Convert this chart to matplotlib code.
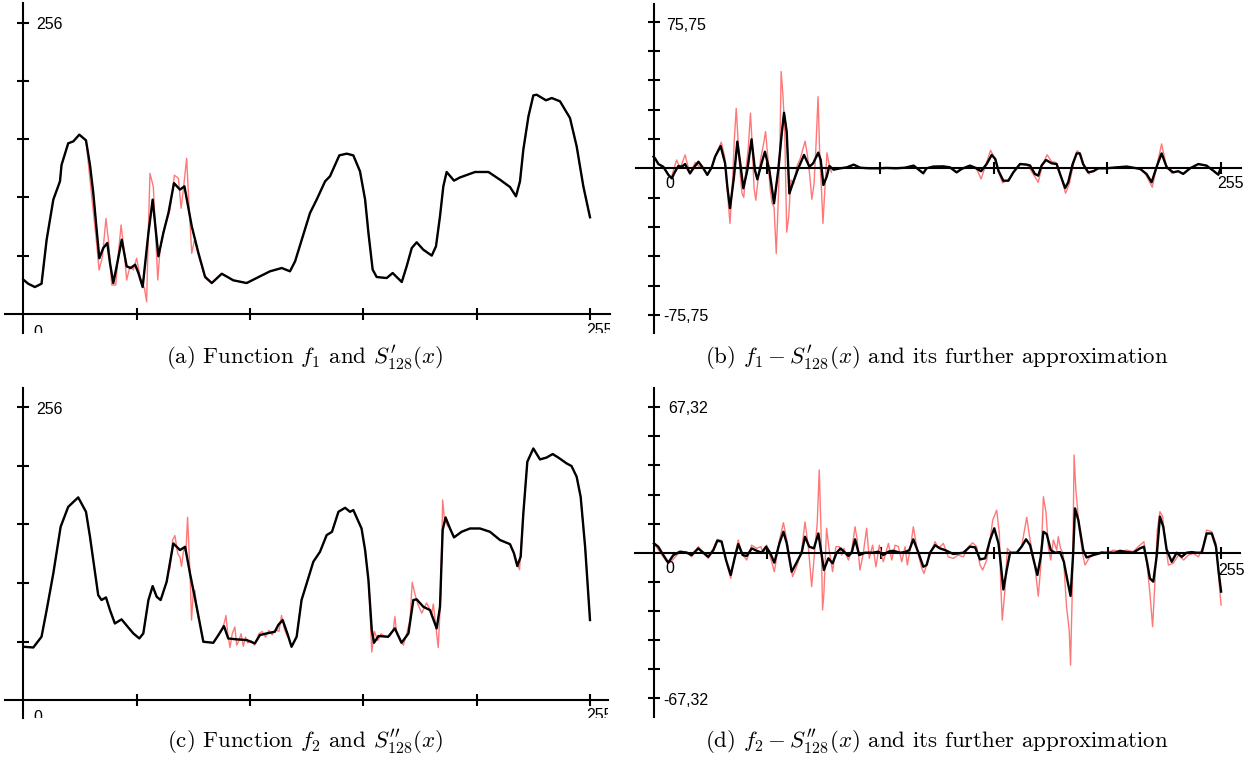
import matplotlib
matplotlib.use("Agg")
import matplotlib.pyplot as plt

plt.rcParams['mathtext.fontset'] = 'cm'

# ---- data ----
# (a) f1 and S'128 (black), the red copy is noisy around x=30..80
f1_x = [0, 2.2, 5.2, 8.2, 10.5, 13.5, 16.5, 17.2, 20.2, 22.5, 25.2, 28.2, 30, 31.5, 33, 34.2, 36, 37.8, 39, 40.5,
        42, 44.3, 46.5, 48.3, 50.3, 51.8, 53.7, 56.3, 58.2, 60.8, 63, 65.3, 67.8, 70.5, 72.5, 75.8, 78.8, 81.8,
        84.8, 89.3, 94.5, 100.5, 106.5, 111, 116.3, 120, 122.3, 125.3, 129, 132, 135.8, 138, 142.2, 145.5, 148.5,
        151.5, 153.8, 155.3, 157.2, 159, 163.5, 166.2, 170.3, 172.5, 174.8, 177, 180, 183.8, 185.7, 187.5, 189,
        190.5, 193.8, 196.5, 203.3, 209.3, 214.5, 219, 221.7, 223.5, 225, 227.3, 229.5, 231, 235.2, 237.8, 241.5,
        246, 249, 252, 255]
f1_y = [30.2, 26.6, 23.7, 26.6, 65.3, 100.5, 116.6, 131, 150, 151.7, 157.6, 152.6, 131, 106, 74, 49, 58, 62.4, 44.8,
        27.2, 41.9, 65.3, 41.9, 40.4, 43.3, 36, 23.7, 71.2, 100.5, 50.7, 71.2, 88.7, 115, 109.3, 112.2, 77, 53.6,
        32.5, 27.2, 35.4, 29.6, 27.2, 33.1, 37.5, 40.4, 37.5, 46.3, 65.3, 88.7, 100.5, 116.6, 121, 139.4, 140.9,
        139.4, 125.4, 100.5, 71.2, 39, 32.5, 31.6, 36, 28.1, 41.9, 58, 63, 56.5, 51.3, 59.5, 85.8, 112.2, 124.8,
        117.2, 120, 124.8, 124.8, 118, 111.6, 103.4, 116.6, 144.4, 173.7, 192.1, 192.7, 187.8, 189.8, 186.9, 172.2,
        147.3, 112.2, 85]
f1_red_x = [28.2, 30.8, 33, 34.1, 35.6, 37.2, 38.3, 39.8, 41.6, 42.8, 44, 45.5, 46.5, 48, 49.5, 51, 52.5, 54.5, 55.5,
            56.3, 57, 58.5, 59.3, 60.5, 61.5, 63.8, 66, 68, 69.8, 71, 72, 73.5, 74.6, 75.8, 77, 78.8, 81.5, 84.8]
f1_red_y = [152.6, 103, 62, 38.7, 50.4, 84, 65, 25.5, 25.5, 53.3, 78.2, 53.3, 29.9, 41.6, 38.7, 49, 32.8, 22.6, 10.8,
            76.7, 123.6, 111.9, 79.7, 29.9, 56.2, 78.2, 91.4, 122, 119.2, 92.9, 109, 136.8, 94.3, 53.3, 65, 51.8, 34.3,
            27.2]

# (b) f1 - S'128 (red) and its further approximation (black)
r1_x = [0, 0.7, 2.2, 4.4, 6.7, 8.2, 9.7, 11.2, 12.7, 14.2, 16.4, 18.7, 20.2, 22.4, 24.2, 26.2, 27.7, 30.2, 32.2,
        33.2, 34.4, 36.2, 37.7, 39.2, 40.4, 42.2, 44.1, 45.6, 46.7, 48.6, 50.1, 52.1, 54.2, 56.1, 57.6, 58.7, 59.9,
        61.1, 62.9, 65.1, 67.7, 70.1, 71.8, 74.1, 75.2, 76.4, 77.9, 79.1, 81, 84, 87, 90, 93, 97, 101, 105, 109,
        113, 117, 119.8, 121.3, 122.8, 125.8, 130.3, 133.3, 136.3, 138.6, 142.3, 144.3, 147.3, 149.8, 152.1, 153.7,
        155.1, 157.3, 159.6, 161.8, 164.8, 167.8, 169.3, 171.5, 173, 174.5, 176.5, 179, 181.3, 182.8, 185.1, 186.5,
        188.5, 190.3, 191.7, 193.2, 195.5, 197.8, 200, 203.7, 208.3, 212.8, 218.8, 221.7, 224, 226.3, 228.5, 230.8,
        233.7, 236, 238.2, 241.3, 245, 248.7, 251.7, 254, 255]
r1_y = [6, 5.1, 2.2, 0.8, -3.4, -5.2, -1.7, 1.2, 0.8, 2.2, -2.6, 1.2, 3.4, 0, -3.4, 0.5, 6, 11.5, 2.6, -9.5, -20.6,
        -4.3, 13.8, 0.8, -10.3, -0.9, 15, -0.9, -5.7, 2.6, 8.6, -0.9, -18.1, -0.9, 17.2, 28.7, 18.9, -13, -6.9, 0,
        6.9, 0.8, 2.6, 8.1, 4.3, -8.6, -4.3, 1.2, -0.7, 0, 0.5, 1.9, 0.3, 0, 0, 0.2, 0, 0.3, 1.4, -1.2, -2.6, 0,
        0.9, 1, 0.5, -2.1, -0.3, 1.4, 0.5, -1.5, 2.2, 6.9, 4.8, -1.2, -6.4, -6.4, -2.1, 2.2, 1.9, 1.5, -2.9, -3.8,
        1.4, 4.3, 2.6, 2.2, -2.9, -10.2, -7.2, 2.2, 7.7, 7.7, 2.2, -2.1, -1.5, 0, 0, 0.5, 0.9, -0.3, -2.9, -7.2, 0.9,
        7.7, 0.5, -2.1, -1.5, -2.9, 0, 2.2, 1.4, -1.2, -3.3, 0]
r1_red_x = [8.2, 10.4, 12, 14.2, 16.4, 18.7, 20.5, 22.4, 24.2, 26.2, 28, 30.5, 32, 33.2, 34.4, 35.5, 36.3, 37.2, 38,
            39, 39.8, 40.6, 41.6, 42.6, 43.6, 44.4, 45.2, 46, 47, 48.2, 49.4, 50.4, 51.4, 52.4, 53.3, 54.2, 55.2, 56,
            56.8, 57.4, 58.2, 59, 59.9, 60.8, 61.8, 63, 64.5, 66, 67.2, 68.2, 69.3, 70.3, 71.2, 72.2, 73, 74, 74.8,
            75.5, 76.2, 77, 78, 79, 80]
r1_red_y = [-4, 4.3, 0, 6.9, -3, 3, 1, 0, -3, 0.5, 7, 13.5, 6, -12, -28.5, -8, 14, 31, 15, -3, -13, -15, 0, 10,
            28.5, 12, -10, -16.5, -6, 5, 12, 19, 6, -10, -18, -20, -44, -20, 8, 50, 38, 20, -33, -25, -6, -8, 1, 5,
            10, 14, 6, -4, -16, -8, 10, 37, 5, -10, -28.5, -12, 8, 2, -2]
r1_red2_x = [145, 147.3, 149.5, 151.6, 153.5, 155, 157, 159.5, 162, 165, 168, 171.3, 173, 175, 177, 179, 181, 183,
             185.3, 187, 189, 190.5, 192, 194, 196]
r1_red2_y = [0.5, -5.5, 2, 9.3, 5, -1.5, -7.5, -6, -2, 2.5, 2, -4, -7.2, 2, 7, 3.5, 3, -3, -12.9, -8, 3, 9.1, 7.5,
             0, -3]
r1_red3_x = [219, 221.5, 224.3, 226.3, 228.5, 230.5, 233]
r1_red3_y = [0, -3.5, -9.8, 1, 12.6, 2, -2.5]

# (c) f2 and S''128
f2_x = [0.3, 4.5, 8.2, 10.5, 13.5, 16.8, 20.2, 24.7, 28.2, 30, 31.9, 33.7, 35.2, 37.2, 39, 41.2, 44.2, 47.2, 49.5,
        52.2, 54, 56.3, 58.2, 60, 61.8, 64.5, 67.5, 70.5, 72.8, 75, 78, 81, 85.5, 87.8, 90.3, 92.2, 96, 100.5,
        104.2, 106.5, 109.5, 113.2, 114.7, 116.7, 118.8, 120.7, 123, 125.2, 127.5, 130.5, 133.5, 136.5, 138.9,
        141.8, 144.8, 147, 148.5, 152.2, 153.8, 155.3, 156.8, 157.8, 159.8, 164.2, 167.2, 170.2, 173.3, 175.5, 177,
        180, 183, 186, 187.5, 188.7, 190, 192, 193.8, 197.2, 201, 205.5, 210, 214.5, 219, 220.8, 222.3, 223.8, 225,
        226.8, 229.5, 232.5, 235.5, 238.2, 240.7, 244.5, 246.7, 249, 250.8, 252.8, 253.8, 255]
f2_y = [46.6, 46, 55.4, 78.7, 110.8, 151.6, 169, 177.3, 164.7, 142.9, 116.6, 91.8, 87.5, 89.8, 78.7, 67, 70.6, 63.6,
        58.3, 53.9, 58.3, 87.5, 99.7, 90.4, 87.5, 103.5, 137, 131.2, 134.1, 110.8, 81.6, 51, 50.1, 56.9, 64.7, 53.9,
        53.1, 52.5, 49.6, 56.9, 58.3, 59.8, 65.6, 70, 58.3, 46.6, 55.4, 87.5, 102, 121, 129.7, 144.3, 147.2, 164.7,
        168.2, 164.7, 166.2, 150.1, 131.2, 105, 61.2, 50.1, 56, 55.4, 62.7, 50.1, 58.3, 87.5, 88.1, 81.6, 78.7,
        62.7, 81.6, 148.7, 159.8, 150.1, 142.3, 147.2, 150.1, 150.1, 147.2, 140, 136.4, 128.3, 117.2, 125.4, 163.3,
        208.5, 220.1, 210.5, 212.2, 215.2, 212.2, 207, 204.7, 195.3, 177.8, 134.1, 105, 70]
f2_red_x = [66, 67.2, 68.2, 69.5, 70.5, 71.2, 72.2, 73.2, 73.9, 74.6, 75.2, 75.7, 76.5, 77.2, 78, 79]
f2_red_y = [115, 140, 144, 128, 125, 117, 132, 130, 160, 130, 100, 70, 95, 96, 80, 70]
f2_red2_x = [89, 90.5, 91.2, 92, 93, 94, 95.2, 96, 97, 98, 99, 100, 101, 102.5, 104, 106, 107.5, 109, 110.5, 112,
             113.5, 115, 116.2, 117.5, 118.8]
f2_red2_y = [60, 68, 74, 58, 46, 58, 64, 48, 52, 58, 47, 55, 50, 52, 48, 58, 60, 55, 61, 57, 62, 60, 74, 62, 56]
f2_red3_x = [155.5, 156.8, 158, 159.5, 161, 163, 165, 166.5, 167.2, 168, 169.5, 171, 172.5, 174, 175, 176.2, 177.5,
             179.3, 181.5, 183.8, 184.5, 186.7, 187.8, 188.7, 189.5, 191]
f2_red3_y = [100, 42, 60, 52, 58, 55, 56, 62, 73, 58, 52, 48, 58, 70, 103, 93, 84, 76, 85, 76, 84, 46, 90, 175,
             158, 152]
f2_red4_x = [221, 222.3, 223.3, 224.5]
f2_red4_y = [126, 120, 114, 150]

# (d) f2 - S''128 (red) and its further approximation (black)
r2_x = [0, 1.9, 4.2, 6.4, 8.7, 11.7, 14.7, 16.9, 19.9, 22.2, 24.4, 26.7, 28.5, 30.4, 32.4, 34.5, 36.4, 37.9, 39.9,
        41.7, 44, 46.2, 48.4, 50.4, 52.2, 54.1, 56.4, 58.2, 59.7, 61.9, 64.1, 66.4, 67.9, 69.8, 71.9, 73.9, 75.4,
        76.4, 78.4, 80.3, 82.1, 83.9, 85.9, 87.4, 88.9, 90.4, 92.3, 94.9, 98.6, 100.9, 103.1, 105.4, 107.6, 110.6,
        112.9, 114.8, 116.6, 118.9, 121.1, 122.6, 124.1, 126.4, 128.6, 130.9, 134.6, 139.1, 142.1, 144.4, 146.6,
        148.9, 151.1, 153, 154.9, 155.6, 157.1, 158.6, 160.1, 163.1, 165.3, 167.3, 169.1, 170.9, 172.4, 173.9,
        175.1, 176.6, 178.4, 180.3, 182.6, 184.3, 185.8, 187.3, 188.5, 189.3, 190.8, 193, 194.5, 197.5, 201.3,
        204.3, 207.3, 209.5, 212.5, 215.5, 218.5, 220.3, 221.8, 223, 224.5, 226, 227.5, 229, 230.5, 232.8, 235,
        237.3, 239.5, 241.8, 244, 246.3, 248.5, 250.8, 252.7, 253.8, 255]
r2_y = [4.3, 2.8, -1.1, -4.6, -1.1, 0.5, 0, -1.1, 2, 0, -1.9, 1.2, 5.6, 5.1, -3.4, -10.3, -1.9, 4, -1.1, -1.5, 2,
        0.9, 0, 2.8, 0, -4.6, 4.3, 9.7, 4.3, -8.8, -4.6, 0, 7.4, 2.8, 2, 8.9, -1.1, -8, -2.6, -4.9, 0, 2, 0, -1.5,
        0, 6.2, -1.1, 0, 0, 0.5, -1.1, 0.5, 0.9, 0, 0.3, 1.2, 6.2, 0, -6.5, -5.7, 0, 3.5, 2, 1.2, -0.6, 0, 2.8, 2.5,
        -3.1, -2.6, 5.9, 11.3, 4.3, -1.9, -17, -8, 0, 0, 2.8, 6.2, 3.5, -4.2, -10.3, -1.9, 9.7, 8.6, 1.2, 0, 0.3,
        -4.2, -12.3, -20, 0, 20.5, 15.1, 1.2, -2.2, -1.1, 0, 0, 0, 0.9, 0.3, 0, 2, 2.8, -4.9, -11.9, -13.4, -1.9,
        16.7, 12, 1.5, -4.2, 0, -1.9, 0, 0.3, 0, 0, 8.9, 8.9, 2.8, -8, -18]
r2_red_x = [0, 5.7, 7.2, 11.7, 14.7, 16.9, 19.9, 22.2, 24.4, 26.7, 28.5, 30.4, 32.7, 34.5, 36.4, 37.9, 39.4, 41.7,
            43.9, 46.2, 48, 49.2, 50.7, 52.5, 54.1, 56.4, 58.2, 59.7, 61.2, 62.3, 64.1, 66.4, 67.9, 69.4, 70.9, 72.4,
            73.4, 74.3, 75.1, 75.8, 76.4, 77.6, 78.8, 80.3, 81.8, 83.3, 84.4, 85.4, 87.4, 88.9, 90.4, 91.4, 92.6,
            94.1, 95.6, 96.8, 98.3, 99.8, 101.3, 103.1, 105.4, 106.9, 108.4, 109.9, 111.4, 112.9, 113.9, 115.4,
            116.6, 118.4, 120.4, 121.4, 123.4, 126.4, 127.9, 130.1, 132.3, 134.6, 136.8, 139.1, 141.4, 143.3, 145.1,
            146.6, 147.8, 149.6, 151.1, 152.3, 154.1, 155.3, 155.9, 156.6, 157.8, 158.9, 160.8, 163.1, 165.3, 167.6,
            169.1, 171.3, 172.8, 173.9, 175.1, 176.3, 177.3, 178.4, 179.6, 181.1, 181.8, 182.8, 184, 185.5, 186.7,
            187.3, 188.2, 188.9, 189.7, 191.3, 192.7, 193.8, 196, 199, 201.3, 203.5, 206.5, 209.6, 212.5, 215.5,
            218.5, 220.3, 221.8, 223, 224.2, 225.3, 226.3, 227.5, 228.7, 229.8, 231.3, 233.5, 235.8, 238.2, 240.3,
            242.5, 244.8, 247, 248.5, 250.8, 252.7, 254, 255]
r2_red_y = [4.3, -4.2, -4.6, 0.5, 0.5, -1.9, 2.8, -0.3, -2.6, 2, 6.2, 5.6, -4.9, -11.9, -1.1, 5.9, -0.3, -3.4, 3.5,
            2, 2.8, -0.3, 3.5, -2.6, -8.8, 5.9, 13.9, 5.9, -3.4, -11.1, -6.5, 1.2, 14.3, 2.8, -15.7, 2.8, 13.6, 38.3,
            10.5, -26.5, -18.8, 11.3, 1.2, -8.8, 2.8, 2.8, -1.1, 2, -3.4, 1.2, 12, 5.9, -8, -0.3, 11.3, -2.6, 3.5,
            -6.5, 3.5, -4.2, 4.3, -3.4, 3.5, 2.8, -4.2, 2.8, -5.7, 2.8, 12, 1.2, -7.2, -9.6, -3, 5.1, 2, 4.3, -1.9,
            -2.6, -1.1, -1.9, 2.8, 4.6, 2.8, -5.7, -8, -3.4, 5.9, 15.1, 19.7, 8.9, -14.3, -31.2, -17.3, 2, -0.3, 0,
            2.8, 16.4, 5.9, -6.5, -20.1, -6.5, 25.9, 18.2, 2.8, -3.4, 5.9, 1.2, 7.4, 2, -0.3, -25, -35.8, -52, -12.6,
            45.2, 29, 10.5, -0.3, -5.7, -1.9, -0.3, 0.5, -0.3, 1.2, 0.5, 1.2, 0.5, 3.5, 5.1, -6.5, -18.8, -34.2,
            -12.6, 10.5, 19, 16.7, 5.9, -5.7, -4.9, -1.1, -3.4, -1.1, -0.3, -1.9, 2.8, 10.5, 9.7, 4.3, -12.6, -24.2]

f_ticks_x = [51, 102, 153, 204, 255]
f_ticks_y = [51.2, 102.4, 153.6, 204.8, 256]
r1_ticks_y = [-75.75, -60.6, -45.45, -30.3, -15.15, 15.15, 30.3, 45.45, 60.6, 75.75]
r2_ticks_y = [-67.32, -53.86, -40.39, -26.93, -13.46, 13.46, 26.93, 40.39, 53.86, 67.32]

RED = '#ff7878'
W, H = 1253, 765
fig = plt.figure(figsize=(W / 100, H / 100), dpi=100)


def make_axes(l, t, r, b, xlim, ylim, yticks):
    ax = fig.add_axes([l / W, 1 - b / H, (r - l) / W, (b - t) / H])
    ax.set_xlim(xlim)
    ax.set_ylim(ylim)
    ax.patch.set_visible(False)
    for s in ['top', 'right']:
        ax.spines[s].set_visible(False)
    ax.spines['left'].set_position(('data', 0))
    ax.spines['bottom'].set_position(('data', 0))
    ax.spines['left'].set_linewidth(1.5)
    ax.spines['bottom'].set_linewidth(1.5)
    ax.set_xticks(f_ticks_x)
    ax.set_yticks(yticks)
    ax.tick_params(direction='inout', length=9, width=1.5, labelbottom=False, labelleft=False)
    return ax


def label(ax, x, y, s, va='center', clip=False):
    ax.text(x, y, s, fontsize=11.5, family='Liberation Sans', ha='left', va=va, clip_on=clip)


# (a)
ax = make_axes(5, 3, 610, 333, (-8.24, 264.0), (-16.7, 273.3), f_ticks_y)
ax.plot(f1_x, f1_y, color=RED, lw=1)
ax.plot(f1_red_x, f1_red_y, color=RED, lw=1)
ax.plot(f1_x, f1_y, color='black', lw=1.7)
label(ax, 5.7, 254, '256')
label(ax, 4.4, -9.7, '0', va='top', clip=True)
label(ax, 253.5, -7.9, '255', va='top', clip=True)

# (b)
ax = make_axes(636, 4, 1241, 333, (-7.87, 264.2), (-85.1, 84.9), r1_ticks_y)
ax.plot(r1_x, r1_y, color=RED, lw=1)
ax.plot(r1_red_x, r1_red_y, color=RED, lw=1)
ax.plot(r1_red2_x, r1_red2_y, color=RED, lw=1)
ax.plot(r1_red3_x, r1_red3_y, color=RED, lw=1)
ax.plot(r1_x, r1_y, color='black', lw=1.7)
label(ax, 5.6, 74, '75,75')
label(ax, 4.3, -76.7, '-75,75')
label(ax, 5.2, -8.1, '0')
label(ax, 253.7, -8.1, '255')

# (c)
ax = make_axes(5, 388, 608, 718, (-8.24, 263.1), (-15.7, 273.0), f_ticks_y)
ax.plot(f2_x, f2_y, color=RED, lw=1)
ax.plot(f2_red_x, f2_red_y, color=RED, lw=1)
ax.plot(f2_red2_x, f2_red2_y, color=RED, lw=1)
ax.plot(f2_red3_x, f2_red3_y, color=RED, lw=1)
ax.plot(f2_red4_x, f2_red4_y, color=RED, lw=1)
ax.plot(f2_x, f2_y, color='black', lw=1.7)
label(ax, 5.7, 254.3, '256')
label(ax, 4.4, -8.7, '0', va='top', clip=True)
label(ax, 253.5, -7, '255', va='top', clip=True)

# (d)
ax = make_axes(635, 388, 1240, 717, (-8.54, 263.5), (-76.0, 76.2), r2_ticks_y)
ax.plot(r2_red_x, r2_red_y, color=RED, lw=1)
ax.plot(r2_x, r2_y, color='black', lw=1.7)
label(ax, 6.3, 66.5, '67,32')
label(ax, 4.0, -68.5, '-67,32')
label(ax, 5.0, -7.5, '0')
label(ax, 253.8, -8, '255')

# captions
cap = dict(fontsize=16.5, family='cmr10', ha='center', va='center')
fig.text(305 / W, 1 - 358 / H, r"(a) Function $f_1$ and $S^{\prime}_{128}(x)$", **cap)
fig.text(937 / W, 1 - 358 / H, r"(b) $f_1 - S^{\prime}_{128}(x)$ and its further approximation", **cap)
fig.text(305 / W, 1 - 742 / H, r"(c) Function $f_2$ and $S^{\prime\prime}_{128}(x)$", **cap)
fig.text(937 / W, 1 - 742 / H, r"(d) $f_2 - S^{\prime\prime}_{128}(x)$ and its further approximation", **cap)

fig.savefig('out.png', dpi=100)
